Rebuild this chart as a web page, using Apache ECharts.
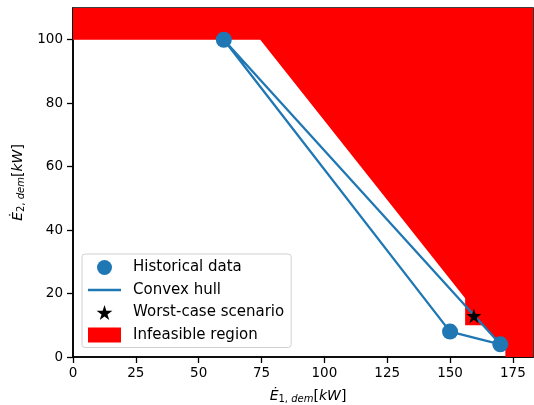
<!DOCTYPE html>
<html>
<head>
<meta charset="utf-8">
<script src="https://cdn.jsdelivr.net/npm/echarts@6/dist/echarts.min.js"></script>
<style>
  html, body { margin: 0; padding: 0; background: #fff; }
  #main { width: 534px; height: 405px; }
</style>
</head>
<body>
<div id="main"></div>
<script>
// historical data points
var histX = [60, 150, 170];
var histY = [100, 8, 4];
// convex hull (closed)
var hullX = [60, 150, 170, 60];
var hullY = [100, 8, 4, 100];
// worst-case scenario
var worstX = [159.5];
var worstY = [13];
// infeasible region outline
var infeasX = [0, 183, 183, 172, 172, 170, 163.1, 156, 156, 74.5, 0];
var infeasY = [110, 110, 0, 0, 3.5, 4, 10, 10, 18.5, 100, 100];

var xTicks = [0, 25, 50, 75, 100, 125, 150, 175];
var yTicks = [0, 20, 40, 60, 80, 100];

var blue = '#1f77b4';
var star = 'path://M50,0 L61,35 L98,35 L68,57 L79,91 L50,70 L21,91 L32,57 L2,35 L39,35 Z';
// thin horizontal bar centred in a 33x15 box, used as the line legend icon
var lineIcon = 'path://M0,0 M0,6.3 L33,6.3 L33,8.7 L0,8.7 Z M33,15';
var font = 'DejaVu Sans';

var myChart = echarts.init(document.getElementById('main'));

function zip(xs, ys) {
  var out = [];
  for (var i = 0; i < xs.length; i++) out.push([xs[i], ys[i]]);
  return out;
}

var nameRich = {
  e: { fontFamily: font, fontStyle: 'italic', fontSize: 14, color: '#000' },
  s: { fontFamily: font, fontSize: 10, color: '#000', padding: [6, 0, 0, 0] },
  si: { fontFamily: font, fontStyle: 'italic', fontSize: 10, color: '#000', padding: [6, 0, 0, 0] },
  b: { fontFamily: font, fontSize: 14, color: '#000' },
  bi: { fontFamily: font, fontStyle: 'italic', fontSize: 14, color: '#000' }
};

var option = {
  animation: false,
  grid: {
    left: 73, top: 8, right: 1, bottom: 48,
    outerBoundsMode: 'none',
    show: true, borderColor: '#000', borderWidth: 1.6, backgroundColor: 'transparent'
  },
  xAxis: {
    type: 'value', min: 0, max: 183, interval: 25,
    name: '{e|Ė}{s|1, }{si|dem}{b|[}{bi|kW}{b|]}',
    nameLocation: 'middle', nameGap: 31,
    nameTextStyle: { rich: nameRich, padding: [0, 0, 0, 10] },
    axisLine: { show: true, lineStyle: { color: '#000', width: 1.6 } },
    axisTick: { show: true, length: 6, customValues: xTicks, lineStyle: { color: '#000', width: 1.3 } },
    axisLabel: {
      fontFamily: font, fontSize: 13.5, color: '#000', margin: 9,
      customValues: xTicks
    },
    splitLine: { show: false }
  },
  yAxis: {
    type: 'value', min: 0, max: 110, interval: 20,
    name: '{e|Ė}{s|2, }{si|dem}{b|[}{bi|kW}{b|]}',
    nameLocation: 'middle', nameGap: 39, nameRotate: 90,
    nameTextStyle: { rich: nameRich },
    axisLine: { show: true, lineStyle: { color: '#000', width: 1.6 } },
    axisTick: { show: true, length: 6, customValues: yTicks, lineStyle: { color: '#000', width: 1.3 } },
    axisLabel: {
      fontFamily: font, fontSize: 13.5, color: '#000', margin: 10,
      customValues: yTicks
    },
    splitLine: { show: false }
  },
  legend: {
    orient: 'vertical', left: 82, top: 254,
    padding: [6, 7, 5, 6], itemGap: 7.5,
    itemWidth: 33, itemHeight: 15,
    backgroundColor: 'rgba(255,255,255,0.85)',
    borderColor: '#d0d0d0', borderWidth: 1, borderRadius: 3,
    textStyle: { fontFamily: font, fontSize: 15, color: '#000', padding: [0, 0, 0, 7] },
    data: [
      { name: 'Historical data', icon: 'circle', itemStyle: { color: blue } },
      { name: 'Convex hull', icon: lineIcon, itemStyle: { color: blue } },
      { name: 'Worst-case scenario', icon: star, itemStyle: { color: '#000' } },
      { name: 'Infeasible region', icon: 'rect', itemStyle: { color: '#ff0000' } }
    ]
  },
  series: [
    {
      name: 'Infeasible region',
      type: 'custom',
      z: 1,
      data: [0],
      itemStyle: { color: '#ff0000' },
      renderItem: function (params, api) {
        var pts = zip(infeasX, infeasY).map(function (p) { return api.coord(p); });
        return {
          type: 'polygon',
          shape: { points: pts },
          style: { fill: '#ff0000', stroke: null }
        };
      }
    },
    {
      name: 'Convex hull',
      type: 'line',
      z: 3,
      data: zip(hullX, hullY),
      symbol: 'none',
      lineStyle: { color: blue, width: 2.3 },
      itemStyle: { color: blue }
    },
    {
      name: 'Historical data',
      type: 'scatter',
      z: 4,
      data: zip(histX, histY),
      symbolSize: 16,
      itemStyle: { color: blue, opacity: 1 }
    },
    {
      name: 'Worst-case scenario',
      type: 'scatter',
      z: 5,
      data: zip(worstX, worstY),
      symbol: star,
      symbolSize: 15,
      itemStyle: { color: '#000', opacity: 1 }
    }
  ]
};

myChart.setOption(option);
</script>
</body>
</html>
